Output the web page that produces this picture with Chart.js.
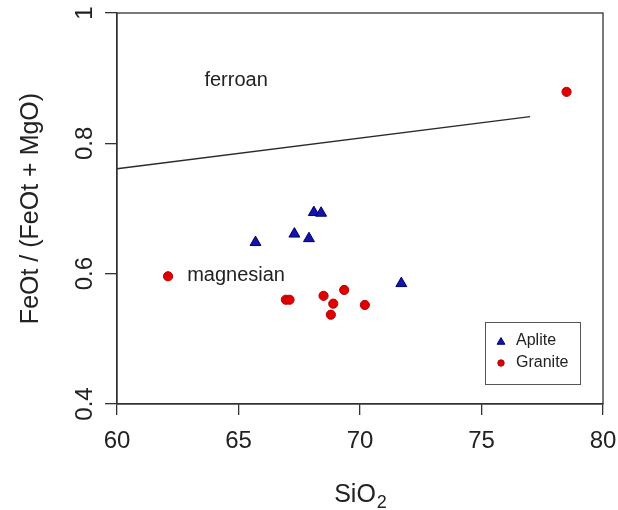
<!DOCTYPE html>
<html>
<head>
<meta charset="utf-8">
<script src="https://cdn.jsdelivr.net/npm/chart.js@4.4.1/dist/chart.umd.min.js"></script>
<style>
  html, body { margin: 0; padding: 0; background: #fff; }
  #wrap { width: 618px; height: 510px; }
</style>
</head>
<body>
<div id="wrap"><canvas id="grafico"></canvas></div>
<script>
// amostras: SiO2 (wt%) e FeOt/(FeOt+MgO)
const siO2Aplite = [65.7, 67.3, 67.9, 68.1, 68.4, 71.7];
const razaoAplite = [0.648, 0.661, 0.654, 0.694, 0.693, 0.585];
const siO2Granite = [62.1, 66.95, 67.1, 68.5, 69.35, 68.9, 68.8, 70.2, 78.5];
const razaoGranite = [0.596, 0.560, 0.560, 0.566, 0.575, 0.554, 0.537, 0.552, 0.879];

// limite ferroan / magnesian
const limiteSiO2 = [60, 77];
const limiteRazao = [0.761, 0.841];

const ticksX = [60, 65, 70, 75, 80];
const ticksY = [0.4, 0.6, 0.8, 1];

const campos = ['ferroan', 'magnesian'];
const camposSiO2 = [64.9, 64.9];
const camposRazao = [0.897, 0.597];

const fonte = '"Liberation Sans", Arial, sans-serif';
const corTexto = '#222';
const corEixo = '#333';

const pontos = (xs, ys) => xs.map((x, i) => ({ x: x, y: ys[i] }));

// caixa, rotulos do eixo y, titulo SiO2, nomes dos campos e legenda
const extras = {
  id: 'extras',
  afterDraw(chart) {
    const { ctx, chartArea: a, scales: { x, y } } = chart;
    ctx.save();
    ctx.strokeStyle = corEixo;
    ctx.lineWidth = 1.3;
    ctx.strokeRect(a.left, a.top, a.right - a.left, a.bottom - a.top);

    ctx.fillStyle = corTexto;
    ctx.font = '24px ' + fonte;
    ctx.textAlign = 'center';
    ctx.textBaseline = 'middle';
    ticksY.forEach(v => {
      ctx.save();
      ctx.translate(85, y.getPixelForValue(v));
      ctx.rotate(-Math.PI / 2);
      ctx.fillText(String(v), 0, 0);
      ctx.restore();
    });

    // SiO2 com o 2 subscrito
    ctx.textAlign = 'left';
    ctx.textBaseline = 'alphabetic';
    ctx.font = '25px ' + fonte;
    const wBase = ctx.measureText('SiO').width;
    ctx.font = '18px ' + fonte;
    const wSub = ctx.measureText('2').width;
    const tx = (a.left + a.right) / 2 - (wBase + wSub) / 2;
    ctx.font = '25px ' + fonte;
    ctx.fillText('SiO', tx, 502);
    ctx.font = '18px ' + fonte;
    ctx.fillText('2', tx + wBase + 1, 508);

    ctx.textAlign = 'center';
    ctx.textBaseline = 'middle';
    ctx.font = '20px ' + fonte;
    campos.forEach((nome, i) => {
      ctx.fillText(nome, x.getPixelForValue(camposSiO2[i]), y.getPixelForValue(camposRazao[i]));
    });

    // legenda
    const lx = 485, ly = 322;
    ctx.strokeStyle = '#555';
    ctx.lineWidth = 1;
    ctx.strokeRect(lx + 0.5, ly + 0.5, 95, 62);
    ctx.fillStyle = '#1414A8';
    ctx.strokeStyle = '#00006E';
    Chart.helpers.drawPoint(ctx, { pointStyle: 'triangle', radius: 4.5, borderWidth: 1, rotation: 0 }, lx + 16, ly + 20);
    ctx.fillStyle = '#D80000';
    ctx.strokeStyle = '#B00000';
    Chart.helpers.drawPoint(ctx, { pointStyle: 'circle', radius: 3.2, borderWidth: 1, rotation: 0 }, lx + 16, ly + 41);
    ctx.fillStyle = corTexto;
    ctx.font = '16px ' + fonte;
    ctx.textAlign = 'left';
    ctx.fillText('Aplite', lx + 31, ly + 19);
    ctx.fillText('Granite', lx + 31, ly + 41);
    ctx.restore();
  }
};

new Chart(document.getElementById('grafico'), {
  type: 'scatter',
  data: {
    datasets: [
      {
        label: 'limite',
        data: pontos(limiteSiO2, limiteRazao),
        showLine: true,
        borderColor: '#2a2a2a',
        borderWidth: 1.4,
        pointRadius: 0
      },
      {
        label: 'Aplite',
        data: pontos(siO2Aplite, razaoAplite),
        pointStyle: 'triangle',
        pointRadius: 6.3,
        backgroundColor: '#1414A8',
        borderColor: '#00006E',
        borderWidth: 1
      },
      {
        label: 'Granite',
        data: pontos(siO2Granite, razaoGranite),
        pointStyle: 'circle',
        pointRadius: 4.6,
        backgroundColor: '#E00000',
        borderColor: '#B40000',
        borderWidth: 1
      }
    ]
  },
  plugins: [extras],
  options: {
    responsive: true,
    maintainAspectRatio: false,
    animation: false,
    layout: { padding: { top: 13, right: 15, left: 0, bottom: 0 } },
    plugins: {
      legend: { display: false },
      tooltip: { enabled: false }
    },
    scales: {
      x: {
        type: 'linear',
        min: 60,
        max: 80,
        afterBuildTicks: s => { s.ticks = ticksX.map(v => ({ value: v })); },
        afterFit: s => { s.height = 106; s.paddingLeft = 0; s.paddingRight = 0; },
        border: { display: true, color: corEixo, width: 1.3 },
        grid: { drawOnChartArea: false, drawTicks: true, tickLength: 11, color: corEixo, lineWidth: 1.3 },
        ticks: { color: corTexto, padding: 12, font: { family: fonte, size: 24 } },
        title: { display: false }
      },
      y: {
        type: 'linear',
        min: 0.4,
        max: 1,
        afterBuildTicks: s => { s.ticks = ticksY.map(v => ({ value: v })); },
        afterFit: s => { s.width = 117; s.paddingTop = 0; s.paddingBottom = 0; },
        border: { display: true, color: corEixo, width: 1.3 },
        grid: { drawOnChartArea: false, drawTicks: true, tickLength: 12, color: corEixo, lineWidth: 1.3 },
        ticks: { display: false },
        title: { display: true, text: 'FeOt / (FeOt + MgO)', color: corTexto, padding: { top: 16, bottom: 0 }, font: { family: fonte, size: 25 } }
      }
    }
  }
});
</script>
</body>
</html>
